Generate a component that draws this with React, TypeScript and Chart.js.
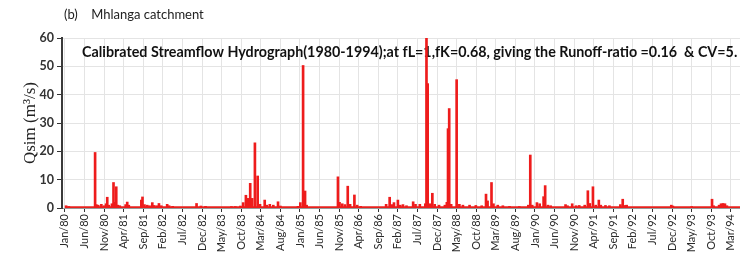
import React, { useEffect, useRef } from "react";
import { Chart, registerables } from "chart.js";

Chart.register(...registerables);

const panelLabel = "(b)    Mhlanga catchment";
const chartTitle =
  "Calibrated Streamflow Hydrograph(1980-1994);at fL=1,fK=0.68, giving the Runoff-ratio =0.16  & CV=5.";
const yAxisTitle = "Qsim (m\u00b3/s)";

const tickLabels = [
  "Jan/80", "Jun/80", "Nov/80", "Apr/81", "Sep/81", "Feb/82", "Jul/82", "Dec/82",
  "May/83", "Oct/83", "Mar/84", "Aug/84", "Jan/85", "Jun/85", "Nov/85", "Apr/86",
  "Sep/86", "Feb/87", "Jul/87", "Dec/87", "May/88", "Oct/88", "Mar/89", "Aug/89",
  "Jan/90", "Jun/90", "Nov/90", "Apr/91", "Sep/91", "Feb/92", "Jul/92", "Dec/92",
  "May/93", "Oct/93", "Mar/94",
];
// months since Jan/80 for each tick label
const tickMonths = [
  0, 5, 10, 15, 20, 25, 30, 35, 40, 45, 50, 55, 60, 65, 70, 75, 80, 85, 90, 95,
  100, 105, 110, 115, 120, 125, 130, 135, 140, 145, 150, 155, 160, 165, 170,
];

// flow events: time in months since Jan/80, simulated discharge (m3/s)
const eventMonths = [
  0.3, 1.0, 7.7, 8.0, 8.5, 9.3, 10.0, 10.5, 10.8, 11.2, 12.0, 12.4, 12.7, 13.1, 13.5, 14.0,
  15.5, 15.9, 16.3, 19.5, 19.8, 20.3, 21.0, 21.6, 22.3, 22.8, 23.5, 24.0, 24.6, 26.1, 26.6, 27.5,
  33.6, 34.7, 35.9, 42.5, 43.5, 44.8, 45.5, 46.2, 46.8, 47.3, 47.8, 48.5, 49.2, 49.8, 51.0, 51.5,
  52.3, 53.2, 54.4, 55.0, 59.5, 60.1, 60.8, 61.3, 61.7, 69.7, 70.1, 70.8, 71.5, 72.2, 72.8, 73.9,
  74.6, 75.5, 82.0, 82.9, 83.5, 84.0, 85.0, 85.6, 86.3, 87.2, 88.9, 89.5, 90.6, 92.0, 92.3, 92.6,
  93.2, 93.8, 94.4, 95.5, 97.0, 97.5, 97.8, 98.1, 98.6, 100.0, 100.7, 101.6, 103.3, 104.9, 106.4,
  107.5, 107.9, 108.9, 109.4, 110.5, 111.8, 113.5, 116.0, 118.3, 118.8, 119.3, 120.5, 121.2, 122.2,
  122.6, 123.3, 124.0, 127.8, 128.3, 129.5, 130.5, 131.3, 132.7, 133.5, 134.0, 134.8, 135.5, 136.3,
  136.8, 138.0, 139.0, 141.8, 142.4, 143.0, 143.4, 154.8, 155.2, 160.0, 165.2, 165.6, 167.0, 167.5,
  168.0, 168.5, 169.0,
];
const eventValues = [
  0.8, 0.5, 19.6, 1.2, 1.0, 1.3, 0.8, 1.5, 3.8, 1.0, 1.5, 9.0, 2.0, 7.5, 1.0, 0.8,
  1.2, 2.1, 1.0, 2.8, 3.9, 1.2, 1.0, 0.8, 1.9, 0.9, 0.8, 1.6, 0.8, 1.3, 0.8, 0.6,
  1.6, 0.7, 0.6, 0.5, 0.5, 0.7, 1.9, 4.5, 3.4, 8.7, 3.4, 23.0, 11.3, 1.3, 2.8, 1.0,
  1.3, 1.0, 2.2, 0.7, 0.6, 1.9, 50.3, 6.0, 1.0, 11.0, 2.0, 1.5, 1.2, 7.7, 1.3, 4.6,
  1.0, 0.6, 1.3, 3.8, 1.2, 1.9, 2.8, 1.0, 1.2, 0.8, 2.2, 1.3, 1.3, 1.5, 61.0, 43.9,
  1.5, 5.2, 1.3, 1.0, 1.0, 2.0, 28.0, 35.1, 1.3, 45.3, 1.3, 1.0, 1.0, 0.9, 0.8,
  4.9, 2.5, 9.0, 1.5, 1.0, 0.8, 0.6, 0.5, 1.0, 18.7, 1.0, 1.9, 1.5, 4.0,
  7.9, 1.0, 0.8, 1.2, 0.8, 1.5, 0.8, 0.9, 1.0, 6.1, 1.6, 7.5, 1.0, 2.8,
  1.0, 0.9, 0.8, 1.2, 3.1, 0.9, 1.0, 1.0, 0.7, 0.5, 3.1, 0.8, 1.0, 1.5,
  1.6, 1.5, 0.8,
];

// low base flow line
const baseMonths = [0, 30, 42, 150, 162, 180];
const baseValues = [0.3, 0.3, 0.25, 0.25, 0.3, 0.3];

const titlesPlugin = {
  id: "titlesPlugin",
  beforeDatasetsDraw(chart: any) {
    const { ctx, chartArea } = chart;
    ctx.save();
    ctx.fillStyle = "#111";
    ctx.textBaseline = "middle";
    ctx.textAlign = "left";
    ctx.font = "bold 14.3px Lato";
    ctx.fillText(chartTitle, chartArea.left + 20, chartArea.top + 14);
    ctx.restore();
  },
  afterDraw(chart: any) {
    const { ctx } = chart;
    ctx.save();
    ctx.fillStyle = "#222";
    ctx.textBaseline = "middle";
    ctx.textAlign = "left";
    ctx.font = "13px Lato";
    ctx.fillText(panelLabel, 64, 15);
    ctx.restore();
  },
};

export default function App() {
  const ref = useRef<HTMLCanvasElement | null>(null);

  useEffect(() => {
    if (!ref.current) return;
    const barData = eventMonths.map((m, i) => ({ x: m, y: eventValues[i] }));
    const baseData = baseMonths.map((m, i) => ({ x: m, y: baseValues[i] }));
    const chart = new Chart(ref.current, {
      type: "bar",
      data: {
        datasets: [
          {
            type: "line",
            data: baseData,
            borderColor: "#e8201c",
            borderWidth: 2,
            pointRadius: 0,
            fill: false,
            order: 2,
          } as any,
          {
            type: "bar",
            data: barData,
            backgroundColor: "#ee1c1c",
            borderWidth: 0,
            barThickness: 2,
            order: 1,
          } as any,
        ],
      },
      options: {
        animation: false,
        responsive: false,
        events: [],
        layout: { padding: { left: 0, right: 10, top: 38, bottom: 0 } },
        plugins: {
          legend: { display: false },
          tooltip: { enabled: false },
          title: { display: false },
        },
        scales: {
          x: {
            type: "linear",
            min: -0.75,
            max: 180,
            offset: false,
            grid: {
              offset: false,
              color: "#e4e4e4",
              lineWidth: 1,
              tickColor: "#333",
              tickLength: 4,
            },
            border: { color: "#999", width: 1 },
            afterBuildTicks: (scale: any) => {
              scale.ticks = tickMonths.map((v) => ({ value: v }));
            },
            afterFit: (scale: any) => {
              scale.height = 52;
            },
            ticks: {
              autoSkip: false,
              maxRotation: 90,
              minRotation: 90,
              padding: 2,
              color: "#2a2a2a",
              font: { family: "Lato", size: 11 },
              callback: (value: any) => {
                const idx = tickMonths.indexOf(Number(value));
                return idx >= 0 ? tickLabels[idx] : "";
              },
            },
          },
          y: {
            type: "linear",
            min: 0,
            max: 60,
            grid: {
              color: "#e4e4e4",
              lineWidth: 1,
              tickColor: "#333",
              tickLength: 5,
            },
            border: { color: "#3a3a3a", width: 2 },
            afterFit: (scale: any) => {
              scale.width = 62;
            },
            ticks: {
              stepSize: 10,
              padding: 3,
              color: "#333",
              font: { family: "Lato", size: 12.5, weight: "bold" },
            },
            title: {
              display: true,
              text: yAxisTitle,
              color: "#222",
              font: { family: "Liberation Serif", size: 17 },
              padding: { top: 20, bottom: 0 },
            },
          },
        },
      },
      plugins: [titlesPlugin],
    });
    return () => chart.destroy();
  }, []);

  return (
    <div
      style={{
        position: "fixed",
        left: 0,
        top: 0,
        width: 740,
        height: 260,
        overflow: "hidden",
        background: "#fff",
      }}
    >
      <canvas
        ref={ref}
        width={780}
        height={260}
        style={{ display: "block", width: 780, height: 260 }}
      />
    </div>
  );
}
